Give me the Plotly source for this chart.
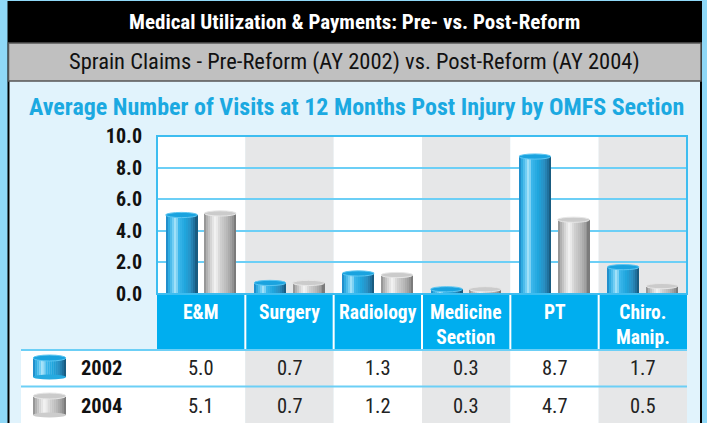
import plotly.graph_objects as go

# ---------------- data ----------------
categories = ["E&M", "Surgery", "Radiology", "Medicine<br>Section", "PT", "Chiro.<br>Manip."]
series_names = ["2002", "2004"]
values_2002 = [5.0, 0.7, 1.3, 0.3, 8.7, 1.7]
values_2004 = [5.1, 0.7, 1.2, 0.3, 4.7, 0.5]
ytick_vals = [0, 2, 4, 6, 8, 10]
ytick_text = ["0.0", "2.0", "4.0", "6.0", "8.0", "10.0"]

title = "Medical Utilization & Payments: Pre- vs. Post-Reform"
subtitle = "Sprain Claims - Pre-Reform (AY 2002) vs. Post-Reform (AY 2004)"
chart_title = "Average Number of Visits at 12 Months Post Injury by OMFS Section"

# ---------------- style ----------------
W, H = 707, 423
L, R, T, B = 157, 20, 136, 129
PW, PH = W - L - R, H - T - B
FONT = "Liberation Sans Narrow, Roboto Condensed, DejaVu Sans Condensed, Arial Narrow, sans-serif"

OUTER = "#8fd8f7"
PANEL = "#e1f3fc"
GRAYCOL = "#e6e7e8"
CYAN = "#00aeef"
GRID = "#6ccff6"

blue_stops = [(0, "#1b7fbf"), (0.08, "#2aa8df"), (0.2, "#62c8f2"), (0.3, "#b0e6fa"),
              (0.4, "#3cb7eb"), (0.6, "#1fa5dd"), (0.8, "#2a8ec0"), (0.93, "#1d6b96"), (1, "#154f70")]
gray_stops = [(0, "#8a8a8a"), (0.1, "#b4b4b4"), (0.26, "#e0e0e0"), (0.36, "#f4f4f4"),
              (0.5, "#d2d2d2"), (0.7, "#bababa"), (0.88, "#9b9b9b"), (1, "#707070")]
cap_fill = ["#1aa3df", "#cbcbcb"]
cap_line = ["#5cc6f2", "#e6e6e6"]


def hex2rgb(h):
    h = h.lstrip("#")
    return tuple(int(h[i:i + 2], 16) for i in (0, 2, 4))


def grad(stops, t):
    for (p0, c0), (p1, c1) in zip(stops[:-1], stops[1:]):
        if p0 <= t <= p1:
            f = (t - p0) / (p1 - p0) if p1 > p0 else 0
            a, b = hex2rgb(c0), hex2rgb(c1)
            return "rgb(%d,%d,%d)" % tuple(round(a[k] + (b[k] - a[k]) * f) for k in range(3))
    return stops[-1][1]


def px(X):
    return (X - L) / PW


def py(Y):
    return (H - B - Y) / PH


n = len(categories)
xs = list(range(n))
series = [values_2002, values_2004]
stops_list = [blue_stops, gray_stops]
bar_w = 0.36
centers = [-0.222, 0.216]
NS = 16
ppu = PH / 10.0  # pixels per y unit
cap_h = 2.6 / ppu

fig = go.Figure()
shapes = []
annotations = []

# bars as shaded stripes (cylinder look)
for s, vals in enumerate(series):
    sw = bar_w / NS
    for j in range(NS):
        t = (j + 0.5) / NS
        fig.add_trace(go.Bar(
            x=xs, y=vals,
            width=[sw * 1.08] * n,
            offset=[centers[s] - bar_w / 2 + j * sw] * n,
            marker=dict(color=grad(stops_list[s], t), line=dict(width=0)),
            showlegend=False, hoverinfo="skip",
        ))
    for i, v in enumerate(vals):
        shapes.append(dict(type="circle", xref="x", yref="y", layer="above",
                           x0=i + centers[s] - bar_w / 2, x1=i + centers[s] + bar_w / 2,
                           y0=v - cap_h, y1=v + cap_h,
                           fillcolor=cap_fill[s], line=dict(color=cap_line[s], width=1)))

# ---- paper-level background pieces (drawn below the subplot) ----
shapes.append(dict(type="rect", xref="paper", yref="paper", layer="below",
                   x0=px(8.5), x1=px(701), y0=py(2), y1=py(460),
                   fillcolor=PANEL, line=dict(color="black", width=2)))
shapes.append(dict(type="rect", xref="paper", yref="paper", layer="below",
                   x0=px(8.5), x1=px(701), y0=py(2), y1=py(43),
                   fillcolor="black", line=dict(width=0)))
shapes.append(dict(type="rect", xref="paper", yref="paper", layer="below",
                   x0=px(8.5), x1=px(701), y0=py(43), y1=py(81),
                   fillcolor="#c0c0c0", line=dict(color="#555555", width=1.5)))

# category band
shapes.append(dict(type="rect", xref="paper", yref="paper", layer="below",
                   x0=0, x1=1, y0=py(294), y1=py(350), fillcolor=CYAN, line=dict(width=0)))
for k in range(1, n):
    shapes.append(dict(type="line", xref="paper", yref="paper", layer="below",
                       x0=k / n, x1=k / n, y0=py(294), y1=py(350),
                       line=dict(color="white", width=2)))

# table cells
shapes.append(dict(type="rect", xref="paper", yref="paper", layer="below",
                   x0=px(21), x1=0, y0=py(350), y1=py(460), fillcolor="white", line=dict(width=0)))
for i in range(n):
    shapes.append(dict(type="rect", xref="paper", yref="paper", layer="below",
                       x0=i / n, x1=(i + 1) / n, y0=py(350), y1=py(460),
                       fillcolor=GRAYCOL if i % 2 else "white", line=dict(width=0)))
for Yl in (350, 386.5):
    shapes.append(dict(type="line", xref="paper", yref="paper", layer="below",
                       x0=px(21), x1=1, y0=py(Yl), y1=py(Yl),
                       line=dict(color=GRID, width=2)))

# plot-area column backgrounds
for i in range(n):
    shapes.append(dict(type="rect", xref="x", yref="paper", layer="below",
                       x0=i - 0.5, x1=i + 0.5, y0=0, y1=1,
                       fillcolor=GRAYCOL if i % 2 else "white", line=dict(width=0)))
# plot border
shapes.append(dict(type="rect", xref="paper", yref="paper", layer="above",
                   x0=0, x1=1, y0=0, y1=1, line=dict(color="#3dbdf0", width=2)))

# legend icons (small cylinders) in the table
icon_rows = [367, 405]
for s in range(2):
    Yc = icon_rows[s]
    X0, X1 = 33, 66
    top, bot = Yc - 9, Yc + 10
    for j in range(NS):
        t = (j + 0.5) / NS
        xa = X0 + (X1 - X0) * j / NS
        xb = X0 + (X1 - X0) * (j + 1.1) / NS
        shapes.append(dict(type="rect", xref="paper", yref="paper", layer="above",
                           x0=px(xa), x1=px(min(xb, X1)), y0=py(bot), y1=py(top),
                           fillcolor=grad(stops_list[s], t), line=dict(width=0)))
    shapes.append(dict(type="circle", xref="paper", yref="paper", layer="above",
                       x0=px(X0), x1=px(X1), y0=py(bot + 2.5), y1=py(bot - 2.5),
                       fillcolor=grad(stops_list[s], 0.55), line=dict(width=0)))
    shapes.append(dict(type="circle", xref="paper", yref="paper", layer="above",
                       x0=px(X0), x1=px(X1), y0=py(top + 3), y1=py(top - 3),
                       fillcolor=cap_fill[s], line=dict(color=cap_line[s], width=1)))

# ---- text ----
def ann(text, x, y, size, color, xref="paper", xanchor="center", yanchor="middle"):
    annotations.append(dict(text=text, xref=xref, yref="paper", x=x, y=y,
                            xanchor=xanchor, yanchor=yanchor, showarrow=False,
                            font=dict(family=FONT, size=size, color=color)))


ann("<b>%s</b>" % title, px(354), py(22), 21, "white")
ann(subtitle, px(354), py(62), 22.5, "#111111")
ann("<b>%s</b>" % chart_title, px(356), py(107), 24, "#1ba9e1")
for i, c in enumerate(categories):
    ann("<b>%s</b>" % c, i, py(299), 19.5, "white", xref="x", yanchor="top")
row_Y = [368, 406]
for s, vals in enumerate(series):
    ann("<b>%s</b>" % series_names[s], px(79), py(row_Y[s]), 20.5, "#111111", xanchor="left")
    for i, v in enumerate(vals):
        ann("%.1f" % v, i, py(row_Y[s]), 20.5, "#222222", xref="x")

fig.update_layout(
    width=W, height=H,
    margin=dict(l=L, r=R, t=T, b=B, pad=0),
    paper_bgcolor=OUTER, plot_bgcolor="white",
    barmode="overlay", bargap=0,
    shapes=shapes, annotations=annotations,
    showlegend=False,
    xaxis=dict(range=[-0.5, n - 0.5], showgrid=False, zeroline=False,
               showticklabels=False, ticks="", fixedrange=True),
    yaxis=dict(range=[0, 10], tickvals=ytick_vals, ticktext=["<b>%s</b>" % t for t in ytick_text],
               showgrid=True, gridcolor=GRID, gridwidth=2, zeroline=False,
               ticks="outside", ticklen=10, tickcolor="rgba(0,0,0,0)",
               tickfont=dict(family=FONT, size=20, color="#111111"), fixedrange=True),
)

fig.write_html("out.html", config={"displayModeBar": False},
               post_script="document.body.style.margin='0px';")
